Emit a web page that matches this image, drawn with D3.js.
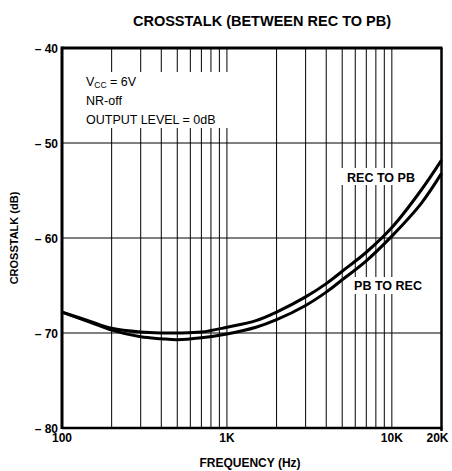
<!DOCTYPE html>
<html lang="en">
<head>
<meta charset="utf-8">
<title>Crosstalk</title>
<style>
  body { margin: 0; background: #fff; }
  text { font-family: "Liberation Sans", Arial, sans-serif; fill: #000; }
  .grid line { stroke: #000; stroke-width: 1; }
  .curve { fill: none; stroke: #000; stroke-width: 3; }
</style>
</head>
<body>
<div id="chart"></div>
<script src="https://cdnjs.cloudflare.com/ajax/libs/d3/7.8.5/d3.min.js"></script>
<script>

var width = 452, height = 471;
var margin = {top: 48, right: 10.5, bottom: 43, left: 62};

// ---- data ----
var freqs   = [100, 150, 200, 300, 400, 500, 700, 1000, 1500, 2000, 3000, 4000, 5000, 7000, 10000, 15000, 20000];
var recToPb = [-67.8, -68.8, -69.5, -69.9, -70.0, -70.0, -69.9, -69.4, -68.7, -67.8, -66.2, -64.8, -63.5, -61.5, -58.9, -55.0, -51.8];
var pbToRec = [-67.8, -68.9, -69.7, -70.4, -70.6, -70.7, -70.5, -70.1, -69.4, -68.6, -67.1, -65.7, -64.4, -62.4, -59.8, -56.4, -53.2];

var xGrid = [200, 300, 400, 500, 600, 700, 800, 900, 1000, 2000, 3000, 4000, 5000, 6000, 7000, 8000, 9000, 10000];
var xTicks = [100, 1000, 10000, 20000];
var xTickLabels = ["100", "1K", "10K", "20K"];
var yTicks = [-40, -50, -60, -70, -80];
var yGrid = [-50, -60, -70];
var notes = ["NR-off", "OUTPUT LEVEL = 0dB"];

var x = d3.scaleLog().domain([100, 20000]).range([margin.left, width - margin.right]);
var y = d3.scaleLinear().domain([-80, -40]).range([height - margin.bottom, margin.top]);

var svg = d3.select("#chart").append("svg")
    .attr("width", width)
    .attr("height", height);

// grid
var grid = svg.append("g").attr("class", "grid");
grid.selectAll(".vx").data(xGrid).enter().append("line")
    .attr("x1", function(d){ return x(d); }).attr("x2", function(d){ return x(d); })
    .attr("y1", y(-40)).attr("y2", y(-80));
grid.selectAll(".hy").data(yGrid).enter().append("line")
    .attr("x1", x(100)).attr("x2", x(20000))
    .attr("y1", function(d){ return y(d); }).attr("y2", function(d){ return y(d); });

// white patches behind the in-plot text (grid breaks there)
function patch(x0, y0, w, h){
  svg.append("rect").attr("x", x0).attr("y", y0).attr("width", w).attr("height", h).attr("fill", "#fff");
}
patch(84, 72, 146, 56);
patch(341, 168, 80, 17);
patch(348, 277, 81, 17);

// curves
var line = d3.line()
    .x(function(d){ return x(d[0]); })
    .y(function(d){ return y(d[1]); })
    .curve(d3.curveCatmullRom.alpha(0.5));

[recToPb, pbToRec].forEach(function(s){
  svg.append("path").attr("class", "curve")
    .attr("d", line(freqs.map(function(f, i){ return [f, s[i]]; })));
});

// frame
svg.append("line").attr("x1", x(100)).attr("x2", x(100)).attr("y1", y(-40) - 1.5).attr("y2", y(-80) + 1)
    .attr("stroke", "#000").attr("stroke-width", 3);
svg.append("line").attr("x1", x(100)).attr("x2", x(20000) + 1).attr("y1", y(-40)).attr("y2", y(-40))
    .attr("stroke", "#000").attr("stroke-width", 3);
svg.append("line").attr("x1", x(100)).attr("x2", x(20000) + 1).attr("y1", y(-80)).attr("y2", y(-80))
    .attr("stroke", "#000").attr("stroke-width", 2.5);
svg.append("line").attr("x1", x(20000)).attr("x2", x(20000)).attr("y1", y(-40)).attr("y2", y(-80) + 3)
    .attr("stroke", "#000").attr("stroke-width", 2.5);

// axis labels
svg.selectAll(".yt").data(yTicks).enter().append("text")
    .attr("x", margin.left - 4)
    .attr("y", function(d){ return y(d) + 4.5; })
    .attr("text-anchor", "end")
    .attr("font-size", 12).attr("font-weight", "bold")
    .text(function(d){ return "\u2013 " + Math.abs(d); });

svg.selectAll(".xt").data(xTicks).enter().append("text")
    .attr("x", function(d){ return x(d) + (d === 20000 ? -4 : 0); })
    .attr("y", 442)
    .attr("text-anchor", "middle")
    .attr("font-size", 12).attr("font-weight", "bold")
    .text(function(d, i){ return xTickLabels[i]; });

svg.append("text")
    .attr("x", 250).attr("y", 467)
    .attr("text-anchor", "middle")
    .attr("font-size", 12).attr("font-weight", "bold")
    .text("FREQUENCY (Hz)");

svg.append("text")
    .attr("transform", "translate(18," + y(-60) + ") rotate(-90)")
    .attr("text-anchor", "middle")
    .attr("font-size", 11).attr("font-weight", "bold")
    .text("CROSSTALK (dB)");

svg.append("text")
    .attr("x", 262).attr("y", 26)
    .attr("text-anchor", "middle")
    .attr("font-size", 14.5).attr("font-weight", "bold")
    .text("CROSSTALK (BETWEEN REC TO PB)");

// conditions
var vcc = svg.append("text").attr("x", 86).attr("y", 86).attr("font-size", 12.5);
vcc.append("tspan").text("V");
vcc.append("tspan").attr("font-size", 8.5).attr("dy", 2).text("CC");
vcc.append("tspan").attr("dy", -2).text(" = 6V");
svg.selectAll(".note").data(notes).enter().append("text")
    .attr("x", 86)
    .attr("y", function(d, i){ return 105 + i * 18.5; })
    .attr("font-size", 12.5)
    .text(function(d){ return d; });

// series labels
svg.append("text").attr("x", 381).attr("y", 182).attr("text-anchor", "middle")
    .attr("font-size", 12.5).attr("font-weight", "bold").text("REC TO PB");
svg.append("text").attr("x", 388).attr("y", 290).attr("text-anchor", "middle")
    .attr("font-size", 12.5).attr("font-weight", "bold").text("PB TO REC");

</script>
</body>
</html>
